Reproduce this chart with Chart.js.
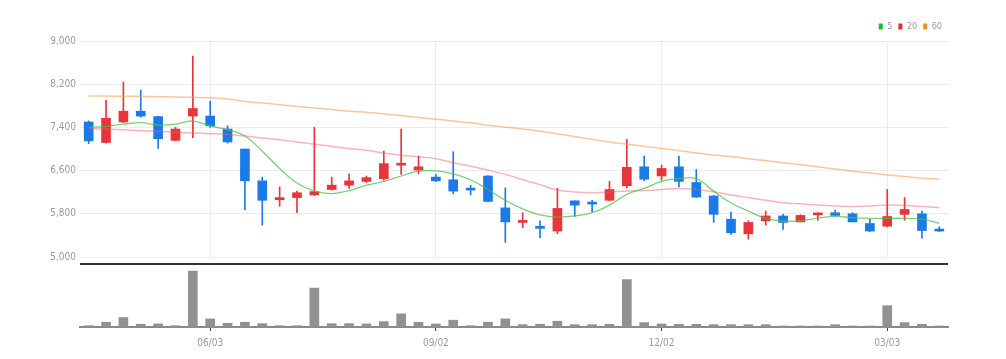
<!DOCTYPE html>
<html>
<head>
<meta charset="utf-8">
<script src="https://cdn.jsdelivr.net/npm/chart.js@4.4.1/dist/chart.umd.min.js"></script>
<style>
body { margin: 0; background: #fff; }
#price { position: absolute; left: 0; top: 0; width: 1006px; height: 267px; }
#volume { position: absolute; left: 0; top: 263px; width: 1006px; height: 96px; }
</style>
</head>
<body>
<div id="price"><canvas id="priceChart"></canvas></div>
<div id="volume"><canvas id="volumeChart"></canvas></div>
<script>
var dates = ['04/15','04/22','04/29','05/06','05/13','05/20','05/27','06/03','06/10','06/17',
             '06/24','07/01','07/08','07/15','07/22','07/29','08/05','08/12','08/19','08/26',
             '09/02','09/09','09/16','09/23','09/30','10/07','10/14','10/21','10/28','11/04',
             '11/11','11/18','11/25','12/02','12/09','12/16','12/23','12/30','01/06','01/13',
             '01/20','01/27','02/03','02/10','02/17','02/24','03/03','03/10','03/17','03/24'];
var tickDates = ['06/03','09/02','12/02','03/03'];

var opens  = [7500,7120,7500,7700,7600,7160,7610,7610,7370,7000, 6410,6060,6100,6150,6250,6330,6400,6450,6700,6610,
              6480,6430,6270,6500,5910,5640,5560,5480,6040,6010, 6050,6320,6670,6500,6670,6380,6130,5700,5430,5670,
              5760,5650,5780,5820,5800,5620,5570,5790,5800,5510];
var closes = [7150,7570,7700,7610,7190,7370,7750,7430,7130,6410, 6050,6100,6190,6210,6330,6410,6470,6730,6730,6670,
              6410,6220,6240,6030,5650,5670,5530,5900,5960,5980, 6250,6660,6440,6640,6400,6110,5790,5450,5640,5760,
              5640,5770,5810,5770,5650,5480,5750,5880,5490,5480];
var highs  = [7520,7900,8240,8090,7610,7400,8720,7890,7430,7000, 6480,6300,6220,7400,6480,6540,6500,6960,7370,6870,
              6530,6950,6330,6510,6280,5820,5670,6270,6040,6050, 6400,7180,6870,6700,6870,6620,6140,5830,5670,5850,
              5790,5780,5820,5870,5820,5700,6250,6100,5850,5560];
var lows   = [7100,7110,7490,7590,7010,7150,7210,7400,7110,5870, 5590,5940,5820,6140,6240,6270,6380,6420,6530,6540,
              6400,6170,6150,6020,5270,5540,5360,5430,5750,5840, 6040,6280,6410,6420,6300,6100,5640,5420,5330,5590,
              5510,5650,5680,5750,5650,5470,5560,5680,5350,5470];
var volumes = [130,470,930,270,300,130,5500,800,370,470, 330,130,130,3830,330,330,300,530,1300,470,
               300,670,130,470,800,230,270,570,230,230, 270,4670,430,300,270,270,230,230,230,230,
               100,100,100,230,100,100,2100,430,270,100];

var ma5  = [7395,7420,7460,7487,7444,7460,7518,7426,7360,7240, 6960,6640,6370,6220,6175,6230,6330,6400,6500,6590,
            6595,6540,6430,6250,6050,5890,5780,5740,5760,5820, 5960,6160,6270,6400,6450,6450,6220,6000,5850,5716,
            5667,5667,5720,5753,5728,5716,5716,5716,5700,5624];
var ma20 = [7376,7370,7355,7340,7325,7310,7295,7284,7268,7240, 7205,7170,7130,7090,7050,7010,6975,6925,6885,6855,
            6820,6745,6680,6610,6530,6430,6340,6240,6205,6190, 6200,6222,6230,6250,6270,6250,6210,6150,6100,6050,
            6005,5985,5963,5945,5932,5945,5963,5955,5935,5913];
var ma60 = [7982,7980,7977,7973,7968,7963,7957,7950,7925,7880, 7852,7820,7790,7760,7730,7700,7680,7650,7620,7585,
            7552,7520,7485,7440,7405,7370,7330,7280,7230,7180, 7130,7090,7050,7010,6970,6925,6890,6860,6820,6785,
            6746,6710,6670,6630,6590,6555,6520,6490,6460,6440];

var upColor = 'rgb(232,52,58)';
var downColor = 'rgb(28,122,232)';
var fontFamily = "'Liberation Sans Narrow', 'DejaVu Sans Condensed', 'Liberation Sans', sans-serif";
var textColor = '#9a9a9a';

var candleColors = opens.map(function(o, i) { return closes[i] >= o ? upColor : downColor; });

function isTickDate(i) { return tickDates.indexOf(dates[i]) >= 0; }

var priceChart = new Chart(document.getElementById('priceChart'), {
  data: {
    labels: dates,
    datasets: [
      { type: 'line', label: '5', data: ma5, borderColor: 'rgba(80,190,80,0.75)', legendColor: 'rgb(30,190,40)',
        borderWidth: 1.3, pointRadius: 0, tension: 0.4 },
      { type: 'line', label: '20', data: ma20, borderColor: 'rgba(240,90,100,0.45)', legendColor: 'rgb(238,40,50)',
        borderWidth: 1.5, pointRadius: 0, tension: 0.4 },
      { type: 'line', label: '60', data: ma60, borderColor: 'rgba(245,160,90,0.6)', legendColor: 'rgb(240,145,30)',
        borderWidth: 1.5, pointRadius: 0, tension: 0.4 },
      { type: 'bar', label: '', data: opens.map(function(o, i) { return [o, closes[i]]; }),
        backgroundColor: candleColors, barThickness: 9, minBarLength: 2, grouped: false },
      { type: 'bar', label: '', data: lows.map(function(l, i) { return [l, highs[i]]; }),
        backgroundColor: candleColors, barThickness: 1, grouped: false }
    ]
  },
  options: {
    responsive: true,
    maintainAspectRatio: false,
    animation: false,
    layout: { padding: { top: 16, right: 58, bottom: 3, left: 0 } },
    plugins: {
      tooltip: { enabled: false },
      legend: {
        position: 'top',
        align: 'end',
        labels: {
          boxWidth: 4, boxHeight: 6, padding: 6,
          color: textColor, font: { family: fontFamily, size: 9 },
          generateLabels: function(chart) {
            return chart.data.datasets.map(function(ds, i) {
              return { text: ds.label, fillStyle: ds.legendColor, strokeStyle: ds.legendColor,
                       lineWidth: 0, datasetIndex: i, hidden: false, fontColor: textColor };
            }).filter(function(l) { return l.text; });
          }
        }
      }
    },
    scales: {
      x: {
        offset: true,
        ticks: { display: false, autoSkip: false },
        grid: { offset: false, drawTicks: false,
                color: function(ctx) { return isTickDate(ctx.index) ? '#ececec' : 'rgba(0,0,0,0)'; } },
        border: { display: false }
      },
      y: {
        min: 5000, max: 9000,
        afterFit: function(scale) { scale.width = 80; },
        ticks: { stepSize: 800, padding: 4, color: textColor, font: { family: fontFamily, size: 10 },
                 callback: function(v) { return v.toLocaleString('en-US'); } },
        grid: { color: '#ececec', drawTicks: false },
        border: { display: false }
      }
    }
  }
});

var topRule = {
  id: 'topRule',
  afterDraw: function(chart) {
    var a = chart.chartArea, ctx = chart.ctx;
    ctx.save();
    ctx.strokeStyle = '#333';
    ctx.lineWidth = 2;
    ctx.beginPath();
    ctx.moveTo(a.left, a.top + 1);
    ctx.lineTo(a.right, a.top + 1);
    ctx.stroke();
    ctx.restore();
  }
};

var volumeChart = new Chart(document.getElementById('volumeChart'), {
  type: 'bar',
  data: {
    labels: dates,
    datasets: [{ data: volumes, backgroundColor: 'rgb(145,145,145)', barThickness: 9 }]
  },
  options: {
    responsive: true,
    maintainAspectRatio: false,
    animation: false,
    layout: { padding: { top: 0, right: 58, bottom: 4, left: 80 } },
    plugins: { legend: { display: false }, tooltip: { enabled: false } },
    scales: {
      x: {
        ticks: { autoSkip: false, maxRotation: 0, padding: 6, color: textColor, font: { family: fontFamily, size: 10 },
                 callback: function(v, i) { return isTickDate(i) ? dates[i] : ''; } },
        grid: { offset: false, drawOnChartArea: false, tickLength: 4,
                tickColor: function(ctx) { return isTickDate(ctx.index) ? '#444' : 'rgba(0,0,0,0)'; } },
        border: { color: '#8a8a8a', width: 2 }
      },
      y: { display: false, min: 0, max: 6300 }
    }
  },
  plugins: [topRule]
});
</script>
</body>
</html>
